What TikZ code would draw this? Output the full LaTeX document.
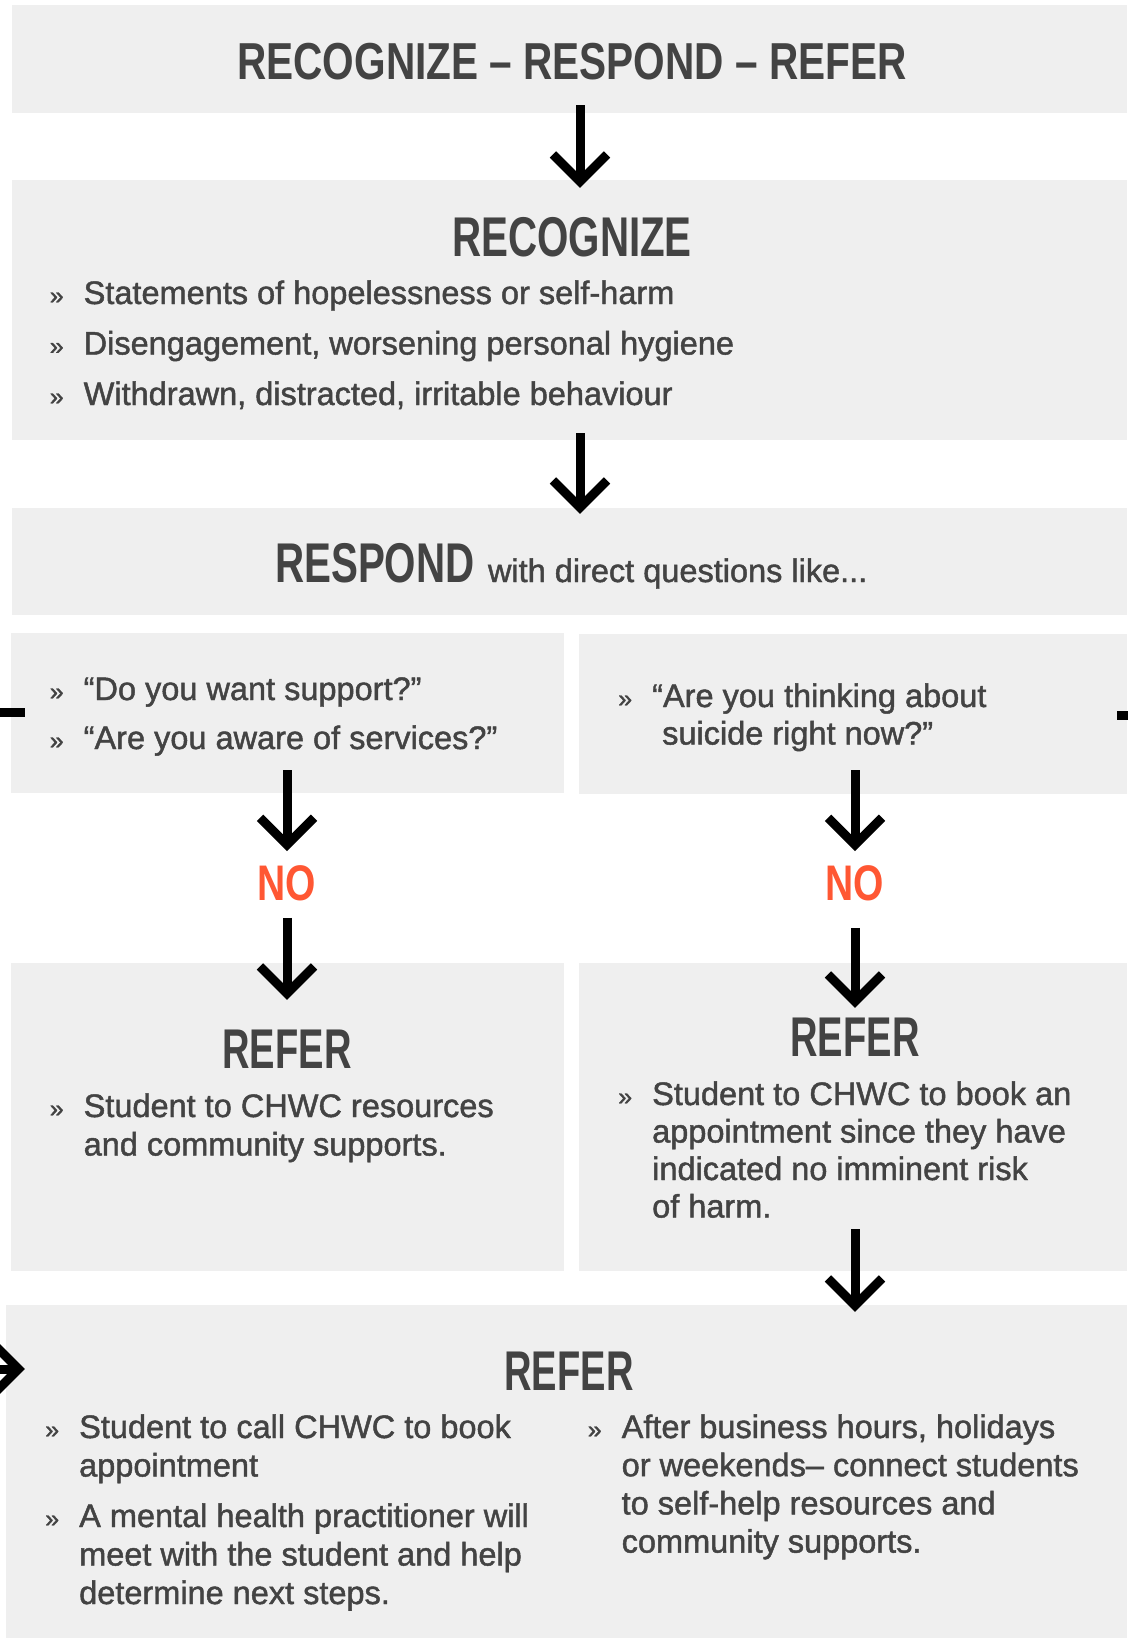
\documentclass[tikz,border=0pt]{standalone}
\usepackage{fontspec}
\setmainfont{Liberation Sans}
\newfontfamily\headface[FakeStretch=0.72]{Liberation Sans Bold}
\newfontfamily\titleface[FakeStretch=0.78]{Liberation Sans Bold}
\newfontfamily\referface[FakeStretch=0.68]{Liberation Sans Bold}
\newfontfamily\bodyface[FakeBold=1.4]{Liberation Sans}
\usetikzlibrary{arrows.meta,fit,calc}

\definecolor{panelgray}{HTML}{EFEFEF}
\definecolor{inkgray}{HTML}{434343}
\definecolor{nored}{HTML}{FF5733}

\newcommand{\bodysize}[1][37.5]{\bodyface\fontsize{32.5}{#1}\selectfont}
\newcommand{\guil}{\llap{\makebox[34pt][l]{\fontsize{25}{25}\selectfont »}}}
\newcommand{\lines}[1]{\begin{tabular}[t]{@{}l@{}}#1\end{tabular}}

\begin{document}
\begin{tikzpicture}
    [ x=1pt, y=-1pt
    , panel/.style={fill=panelgray, inner sep=0pt}
    , heading/.style={anchor=base, inner sep=0pt, text=inkgray, font=\headface\fontsize{56}{56}\selectfont}
    , refer/.style={heading, font=\referface\fontsize{56}{56}\selectfont}
    , item/.style={anchor=base west, inner sep=0pt, text=inkgray, font=\bodysize}
    , answer/.style={inner sep=0pt, text=nored, font=\titleface\fontsize{50}{50}\selectfont}
    , flow/.style={line width=9pt, -{Straight Barb[length=27pt,width=54pt]}}
    , loop/.style={line width=9pt}
    ]
  \useasboundingbox (0,0) rectangle (1127,1638);
  \fill[white] (0,0) rectangle (1127,1638);

  % panels
  \node[panel, fit={(12,5) (1127,113)}] (title) {};
  \node[panel, fit={(12,180) (1127,440)}] (recognize) {};
  \node[panel, fit={(12,508) (1127,615)}] (respond) {};
  \node[panel, fit={(11,633) (564,793)}] (askleft) {};
  \node[panel, fit={(579,634) (1127,794)}] (askright) {};
  \node[panel, fit={(11,963) (564,1271)}] (referleft) {};
  \node[panel, fit={(579,963) (1127,1271)}] (referright) {};
  \node[panel, fit={(6,1305) (1127,1638)}] (referall) {};

  % texts
  \node[heading, font=\titleface\fontsize{52}{52}\selectfont] (titletext) at (572,79)
    {RECOGNIZE – RESPOND – REFER};
  \node[heading] (recognizetext) at (572,256) {RECOGNIZE};
  \node[item, font={\bodysize[50.5]}] (signs) at (83.5,304)
    {\lines{\guil Statements of hopelessness or self-harm\\
     \guil Disengagement, worsening personal hygiene\\
     \guil Withdrawn, distracted, irritable behaviour}};
  \node[heading, anchor=base west] (respondtext) at (275,582) {RESPOND};
  \node[item] (respondtail) at ([xshift=13pt]respondtext.base east) {with direct questions like...};
  \node[item, font={\bodysize[49]}] (askleftitems) at (83.5,700)
    {\lines{\guil “Do you want support?”\\
     \guil “Are you aware of services?”}};
  \node[item] (askrightitems) at (652,707)
    {\lines{\guil “Are you thinking about\\
     \hspace*{10pt}suicide right now?”}};
  \node[answer] (noleft) at (287,883) {NO};
  \node[answer] (noright) at (855,883) {NO};
  \node[refer] (referlefttext) at (287,1068) {REFER};
  \node[item, font={\bodysize[38.5]}] (referleftitems) at (83.5,1117)
    {\lines{\guil Student to CHWC resources\\
     and community supports.}};
  \node[refer] (referrighttext) at (855,1056) {REFER};
  \node[item] (referrightitems) at (652,1105)
    {\lines{\guil Student to CHWC to book an\\
     appointment since they have\\
     indicated no imminent risk\\
     of harm.}};
  \node[refer] (referalltext) at (569,1390) {REFER};
  \node[item, font={\bodysize[38.5]}] (callitem) at (79,1438)
    {\lines{\guil Student to call CHWC to book\\
     appointment}};
  \node[item, font={\bodysize[38.5]}] (practitioneritem) at (79,1527)
    {\lines{\guil A mental health practitioner will\\
     meet with the student and help\\
     determine next steps.}};
  \node[item, font={\bodysize[38.2]}] (afterhoursitem) at (621.5,1438)
    {\lines{\guil After business hours, holidays\\
     or weekends– connect students\\
     to self-help resources and\\
     community supports.}};

  % connectors
  \coordinate (spine) at (580,0);
  \draw[flow] ([yshift=8pt]title.south -| spine) -- ([yshift=-8pt]recognize.north -| spine);
  \draw[flow] ([yshift=7pt]recognize.south -| spine) -- ([yshift=-6pt]respond.north -| spine);
  \draw[flow] ([yshift=23pt]askleft.south -| noleft) -- ([yshift=14pt]noleft.north);
  \draw[flow] ([yshift=-17pt]noleft.south) -- ([yshift=-37pt]referleft.north -| noleft);
  \draw[flow] ([yshift=24pt]askright.south -| noright) -- ([yshift=14pt]noright.north);
  \draw[flow] ([yshift=-27pt]noright.south) -- ([yshift=-45pt]referright.north -| noright);
  \draw[flow] ([yshift=42pt]referright.south -| noright) -- ([yshift=-7pt]referall.north -| noright);
  \coordinate (loopleft) at (0,712.5);
  \draw[loop] (loopleft) -- ([xshift=14pt]askleft.west |- loopleft);
  \coordinate (loopright) at (1140,715.5);
  \draw[loop] (loopright) -- ([xshift=-10pt]askright.east |- loopright);
  \coordinate (loopin) at (-40,1369);
  \draw[flow] (loopin) -- ([xshift=19pt]referall.west |- loopin);
\end{tikzpicture}
\end{document}
